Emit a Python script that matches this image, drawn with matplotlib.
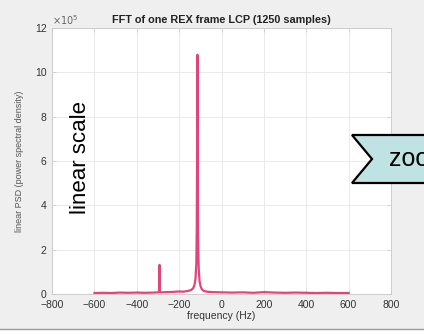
import matplotlib
matplotlib.use("Agg")
import matplotlib.pyplot as plt
import matplotlib.ticker as mticker
from matplotlib.patches import Polygon, Rectangle
from matplotlib.lines import Line2D

plt.rcParams.update({
    "font.family": ["Liberation Sans", "DejaVu Sans"],
    "font.size": 7,
    "axes.linewidth": 0.6,
})

PINK = "#e0457b"
FIG_BG = "#efefef"

# spectrum (frequency in Hz, PSD linear)
freq_hz = [-600, -560, -520, -480, -440, -400, -360, -320, -300, -295,
           -293, -291, -286, -260, -230, -200, -180, -160, -145, -135,
           -128, -123, -119, -117, -115, -114, -113, -111, -108, -104,
           -99, -93, -85, -75, -60, -40, 0, 50, 100, 150, 200, 250,
           300, 350, 400, 450, 500, 550, 600]
psd = [0.05e5, 0.06e5, 0.05e5, 0.07e5, 0.06e5, 0.07e5, 0.06e5, 0.07e5, 0.08e5, 0.1e5,
       1.32e5, 0.12e5, 0.08e5, 0.09e5, 0.1e5, 0.12e5, 0.11e5, 0.14e5, 0.18e5, 0.25e5,
       0.4e5, 0.7e5, 1.4e5, 3.0e5, 7.5e5, 10.8e5, 7.0e5, 2.6e5, 1.2e5, 0.6e5,
       0.35e5, 0.22e5, 0.15e5, 0.12e5, 0.1e5, 0.09e5, 0.08e5, 0.07e5, 0.08e5, 0.06e5, 0.09e5, 0.07e5,
       0.06e5, 0.07e5, 0.06e5, 0.05e5, 0.06e5, 0.05e5, 0.05e5]

x_ticks = [-800, -600, -400, -200, 0, 200, 400, 600, 800]
y_ticks = [0, 2e5, 4e5, 6e5, 8e5, 10e5, 12e5]
Y_SCALE = 1e5

fig = plt.figure(figsize=(4.24, 3.35), dpi=100, facecolor=FIG_BG)
ax = fig.add_axes([0.123, 0.122, 0.799, 0.794])
ax.set_facecolor("white")

ax.plot(freq_hz, psd, color=PINK, linewidth=1.6, solid_joinstyle="round")

ax.set_xlim(-800, 800)
ax.set_ylim(0, 12e5)
ax.set_xticks(x_ticks)
ax.set_yticks(y_ticks)
ax.yaxis.set_major_formatter(mticker.FuncFormatter(lambda v, p: f"{v / Y_SCALE:.0f}"))
ax.text(0.0, 1.005, r"$\times10^{5}$", transform=ax.transAxes, fontsize=7,
        color="#666666", ha="left", va="bottom")

ax.grid(True, color="#e6e6e6", linewidth=0.6)
ax.set_axisbelow(True)
ax.tick_params(direction="in", length=3, width=0.5, colors="#c8c8c8",
               labelcolor="#333333", labelsize=7.5, top=True, right=True, pad=4)
for s in ax.spines.values():
    s.set_color("#c8c8c8")

ax.set_xlabel("frequency (Hz)", fontsize=7.5, color="#333333", labelpad=1)
ax.set_ylabel("linear PSD (power spectral density)", fontsize=6.5,
              color="#555555", labelpad=8)
ax.set_title("FFT of one REX frame LCP (1250 samples)", fontsize=7.8,
             fontweight="bold", color="#222222", pad=4)

fig.text(80 / 424, 1 - 157 / 335, "linear scale", rotation=90, fontsize=16,
         ha="center", va="center", color="black")

# callout ribbon on the right
W, H = 424, 335
ribbon = Polygon([(352 / W, 1 - 135 / H), (430 / W, 1 - 135 / H),
                  (430 / W, 1 - 183 / H), (352 / W, 1 - 183 / H),
                  (372 / W, 1 - 159 / H)], closed=True,
                 transform=fig.transFigure, facecolor="#bfe2e2",
                 edgecolor="black", linewidth=1.6, clip_on=False)
fig.patches.append(ribbon)
fig.text(389 / W, 1 - 159 / H, "zoom", fontsize=18, ha="left", va="center",
         color="black")

# white strip at the bottom of the window
fig.patches.append(Rectangle((0, 0), 1, 6 / H, transform=fig.transFigure,
                             facecolor="white", edgecolor="none"))
fig.lines.append(Line2D([0, 1], [6 / H, 6 / H], transform=fig.transFigure,
                        color="#9a9a9a", linewidth=1.0))

fig.savefig("out.png", dpi=100, facecolor=FIG_BG)
